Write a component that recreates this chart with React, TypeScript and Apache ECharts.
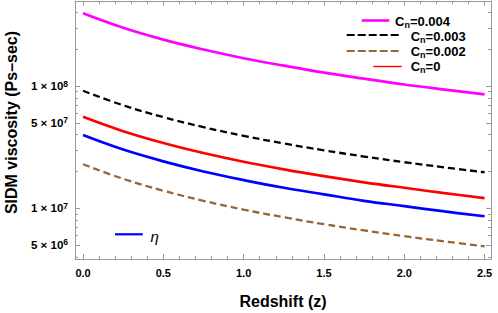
import React, { useEffect, useRef } from 'react';
import * as echarts from 'echarts';

// Redshift sample points
const redshift = [0, 0.25, 0.5, 0.75, 1, 1.25, 1.5, 1.75, 2, 2.25, 2.5];
// SIDM viscosity (Ps-sec)
const cn004 = [3.94e8, 3.0e8, 2.4e8, 1.99e8, 1.69e8, 1.47e8, 1.29e8, 1.15e8, 1.03e8, 9.36e7, 8.55e7];
const cn003 = [9.15e7, 6.96e7, 5.57e7, 4.61e7, 3.91e7, 3.39e7, 2.98e7, 2.65e7, 2.38e7, 2.16e7, 1.97e7];
const cn002 = [2.29e7, 1.74e7, 1.39e7, 1.15e7, 9.74e6, 8.43e6, 7.4e6, 6.58e6, 5.9e6, 5.35e6, 4.88e6];
const cn0 = [5.6e7, 4.27e7, 3.42e7, 2.83e7, 2.4e7, 2.08e7, 1.83e7, 1.63e7, 1.47e7, 1.33e7, 1.21e7];
const eta = [3.97e7, 3.02e7, 2.42e7, 2.0e7, 1.7e7, 1.47e7, 1.3e7, 1.15e7, 1.04e7, 9.41e6, 8.6e6];

// axis ranges and ticks
const xRange = [-0.05, 2.54];
const xMajorTicks = [0, 0.5, 1, 1.5, 2, 2.5];
const xMinorTicks = [0.1, 0.2, 0.3, 0.4, 0.6, 0.7, 0.8, 0.9, 1.1, 1.2, 1.3, 1.4, 1.6, 1.7, 1.8, 1.9, 2.1, 2.2, 2.3, 2.4];
const yRange = [3.84e6, 4.97e8];
const yLabelTicks = [5e6, 1e7, 5e7, 1e8];
const yMinorTicks = [
  4e6, 6e6, 7e6, 8e6, 9e6,
  2e7, 3e7, 4e7, 6e7, 7e7, 8e7, 9e7,
  2e8, 3e8, 4e8,
];
const xTitle = 'Redshift (z)';
const yTitle = 'SIDM viscosity (Ps–sec)';

const FONT = '"Liberation Sans", Arial, sans-serif';
const FRAME = '#999999';
const lg = (v: number) => Math.log10(v);
const pairs = (ys: number[]) => redshift.map((x, i) => [x, lg(ys[i])]);

const seriesDefs = [
  { name: 'Cn=0.004', data: cn004, color: '#ff00ff', width: 2.7, dash: 'solid' as any },
  { name: 'Cn=0.003', data: cn003, color: '#000000', width: 2.3, dash: [7, 4] },
  { name: 'Cn=0.002', data: cn002, color: '#996633', width: 2.3, dash: [7, 4] },
  { name: 'Cn=0', data: cn0, color: '#ff0000', width: 2.7, dash: 'solid' as any },
  { name: 'η', data: eta, color: '#0000ff', width: 2.7, dash: 'solid' as any },
];

const legendRows = [
  { label: '=0.004', color: '#ff00ff', x1: 361.7, x2: 389.3, ly: 20.5, tx: 395, ty: 21.3, w: 2.6, dash: null },
  { label: '=0.003', color: '#000000', x1: 346.7, x2: 400, ly: 35, tx: 410.7, ty: 36, w: 2, dash: [8, 3] },
  { label: '=0.002', color: '#996633', x1: 346.7, x2: 400, ly: 51, tx: 410.7, ty: 51.5, w: 2, dash: [8, 3] },
  { label: '=0', color: '#ff0000', x1: 373.3, x2: 401.7, ly: 66.5, tx: 410.7, ty: 66.7, w: 1.4, dash: null },
];

function baseX(extra: any) {
  return {
    type: 'value',
    min: xRange[0],
    max: xRange[1],
    splitLine: { show: false },
    axisLine: { show: true, onZero: false, lineStyle: { color: FRAME, width: 1 } },
    ...extra,
  };
}
function baseY(extra: any) {
  return {
    type: 'value',
    min: lg(yRange[0]),
    max: lg(yRange[1]),
    splitLine: { show: false },
    axisLine: { show: true, onZero: false, lineStyle: { color: FRAME, width: 1 } },
    ...extra,
  };
}

export default function App() {
  const ref = useRef<HTMLDivElement>(null);
  useEffect(() => {
    const chart = echarts.init(ref.current!, null, { renderer: 'svg' });
    const yLabelFormatter = (v: number) => {
      const exp = Math.floor(v + 1e-6);
      const mant = Math.round(Math.pow(10, v - exp));
      return `{m|${mant} × 10}{s|${exp}}`;
    };
    const option: any = {
      animation: false,
      backgroundColor: '#ffffff',
      grid: { left: 75, right: 7, top: 1, bottom: 54, containLabel: false, outerBoundsMode: 'none' },
      xAxis: [
        baseX({
          position: 'bottom',
          name: xTitle,
          nameLocation: 'middle',
          nameGap: 34,
          nameTextStyle: { fontSize: 16, fontWeight: 'bold', color: '#000', fontFamily: FONT },
          axisTick: { show: true, inside: true, length: 5, lineStyle: { color: FRAME }, customValues: xMajorTicks },
          axisLabel: {
            show: true,
            margin: 8,
            customValues: xMajorTicks,
            formatter: (v: number) => v.toFixed(1),
            fontSize: 11,
            fontWeight: 'bold',
            color: '#000',
            fontFamily: FONT,
          },
        }),
        baseX({
          position: 'bottom',
          axisLine: { show: false, onZero: false },
          axisTick: { show: true, inside: true, length: 3, lineStyle: { color: FRAME }, customValues: xMinorTicks },
          axisLabel: { show: false },
        }),
        baseX({
          position: 'top',
          axisTick: { show: true, inside: true, length: 5, lineStyle: { color: FRAME }, customValues: xMajorTicks },
          axisLabel: { show: false },
        }),
        baseX({
          position: 'top',
          axisLine: { show: false, onZero: false },
          axisTick: { show: true, inside: true, length: 3, lineStyle: { color: FRAME }, customValues: xMinorTicks },
          axisLabel: { show: false },
        }),
      ],
      yAxis: [
        baseY({
          position: 'left',
          axisTick: { show: true, inside: true, length: 5, lineStyle: { color: FRAME }, customValues: yLabelTicks.map(lg) },
          axisLabel: {
            show: true,
            margin: 7,
            customValues: yLabelTicks.map(lg),
            formatter: yLabelFormatter,
            rich: {
              m: { fontSize: 11.5, fontWeight: 'bold', color: '#000', fontFamily: FONT, lineHeight: 14, verticalAlign: 'middle' },
              s: { fontSize: 8.5, fontWeight: 'bold', color: '#000', fontFamily: FONT, lineHeight: 8, verticalAlign: 'top' },
            },
          },
        }),
        baseY({
          position: 'left',
          axisLine: { show: false, onZero: false },
          axisTick: { show: true, inside: true, length: 3, lineStyle: { color: FRAME }, customValues: yMinorTicks.map(lg) },
          axisLabel: { show: false },
        }),
        baseY({
          position: 'right',
          axisTick: { show: true, inside: true, length: 5, lineStyle: { color: FRAME }, customValues: yLabelTicks.map(lg) },
          axisLabel: { show: false },
        }),
        baseY({
          position: 'right',
          axisLine: { show: false, onZero: false },
          axisTick: { show: true, inside: true, length: 3, lineStyle: { color: FRAME }, customValues: yMinorTicks.map(lg) },
          axisLabel: { show: false },
        }),
      ],
      series: seriesDefs.map((s) => ({
        type: 'line',
        name: s.name,
        xAxisIndex: 0,
        yAxisIndex: 0,
        data: pairs(s.data),
        smooth: 0.4,
        showSymbol: false,
        symbol: 'none',
        lineStyle: { color: s.color, width: s.width, type: s.dash },
        itemStyle: { color: s.color },
        z: 3,
      })),
      graphic: [
        {
          type: 'text',
          x: 11,
          y: 122.5,
          rotation: Math.PI / 2,
          z: 10,
          style: {
            text: yTitle,
            align: 'center',
            verticalAlign: 'middle',
            fill: '#000',
            font: `bold 16px ${FONT}`,
          },
        },
        ...legendRows.flatMap((r) => [
          {
            type: 'line',
            shape: { x1: r.x1, y1: r.ly, x2: r.x2, y2: r.ly },
            style: { stroke: r.color, lineWidth: r.w, lineDash: r.dash || undefined },
            z: 10,
          },
          {
            type: 'text',
            x: r.tx,
            y: r.ty,
            z: 10,
            style: {
              text: `{c|C}{n|n}{c|${r.label}}`,
              align: 'left',
              verticalAlign: 'middle',
              fill: '#000',
              rich: {
                c: { fontSize: 13, fontWeight: 'bold', fontFamily: FONT, fill: '#000', lineHeight: 16, verticalAlign: 'middle' },
                n: { fontSize: 9, fontWeight: 'bold', fontFamily: FONT, fill: '#000', lineHeight: 9, verticalAlign: 'bottom' },
              },
            },
          },
        ]),
        {
          type: 'line',
          shape: { x1: 115, y1: 234.3, x2: 142.7, y2: 234.3 },
          style: { stroke: '#0000ff', lineWidth: 2.2 },
          z: 10,
        },
        {
          type: 'text',
          x: 150.5,
          y: 236,
          z: 10,
          style: {
            text: 'η',
            align: 'left',
            verticalAlign: 'middle',
            fill: '#000',
            font: `italic 15px ${FONT}`,
          },
        },
      ],
    };
    chart.setOption(option);
    return () => chart.dispose();
  }, []);
  return <div ref={ref} style={{ position: 'fixed', left: 0, top: 0, width: 498, height: 313 }} />;
}
